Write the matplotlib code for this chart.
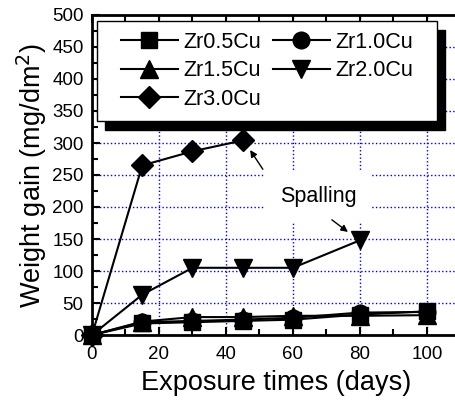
import numpy as np
import matplotlib
matplotlib.use('Agg')
import matplotlib.pyplot as plt
from matplotlib.ticker import MultipleLocator
from matplotlib.path import Path

plt.rcParams['font.family'] = ['Liberation Sans', 'DejaVu Sans']

days = [0, 15, 30, 45, 60, 80, 100]
zr05 = [0, 18, 20, 22, 24, 32, 37]
zr10 = [0, 20, 22, 24, 27, 35, 36]
zr15 = [0, 21, 28, 28, 30, 30, 31]
days20 = [0, 15, 30, 45, 60, 80]
zr20 = [0, 63, 105, 105, 105, 148]
days30 = [0, 15, 30, 45]
zr30 = [0, 265, 287, 304]

fig = plt.figure(figsize=(4.56, 4.03), dpi=100)
ax = fig.add_axes([92/456, 68/403, 368.5/456, 320/403])

ms = 12
kw = dict(lw=1.5, zorder=5, clip_on=False)
l05, = ax.plot(days, zr05, 'k-s', ms=ms, label='Zr0.5Cu', **kw)
l10, = ax.plot(days, zr10, 'k-o', ms=ms, label='Zr1.0Cu', **kw)
l15, = ax.plot(days, zr15, 'k-^', ms=ms+1, label='Zr1.5Cu', **kw)
l20, = ax.plot(days20, zr20, 'k-v', ms=ms+1, label='Zr2.0Cu', **kw)
l30, = ax.plot(days30, zr30, 'k-D', ms=ms-1, label='Zr3.0Cu', **kw)

ax.set_xlim(0, 110)
ax.set_ylim(0, 500)
ax.xaxis.set_major_locator(MultipleLocator(20))
ax.xaxis.set_minor_locator(MultipleLocator(10))
ax.yaxis.set_major_locator(MultipleLocator(50))
ax.yaxis.set_minor_locator(MultipleLocator(25))
ax.tick_params(which='both', direction='in', top=True, labelsize=13.5, width=1.5, pad=6)
ax.tick_params(axis='x', which='both', pad=8)
ax.tick_params(which='major', length=6)
ax.tick_params(which='minor', length=4)
ax.grid(True, which='major', color='blue', linestyle=':', linewidth=1)
for s in ax.spines.values():
    s.set_linewidth(2)

ax.set_xlabel('Exposure times (days)', fontsize=19.5, labelpad=5)
ax.set_ylabel('Weight gain (mg/dm$^2$)', fontsize=19.5, labelpad=2)


# legend frame with extra room left and right
def wide_box(x0, y0, width, height, mutation_size):
    ex = 0.6 * mutation_size
    return Path([(x0 - ex, y0), (x0 + width + ex, y0), (x0 + width + ex, y0 + height),
                 (x0 - ex, y0 + height), (x0 - ex, y0)], closed=True)


# row-major order as in the original legend
handles = [l05, l15, l30, l10, l20]
leg = ax.legend(handles=handles, ncol=2, loc='upper left', bbox_to_anchor=(0.049, 0.981),
                borderaxespad=0, fontsize=15.5, handlelength=2.65, handletextpad=0.25,
                columnspacing=0.55, labelspacing=0.35, borderpad=0.5,
                fancybox=False, framealpha=1, edgecolor='black',
                shadow={'color': 'black', 'alpha': 1, 'ox': 6, 'oy': -6.5})
leg.get_frame().set_boxstyle(wide_box)
leg.get_frame().set_linewidth(1)
leg.set_zorder(10)

ax.text(67.5, 217, 'Spalling', fontsize=15.5, ha='center', va='center', zorder=6,
        bbox=dict(facecolor='white', edgecolor='none', pad=11))
ax.annotate('', xy=(47.2, 289), xytext=(51, 259),
            arrowprops=dict(arrowstyle='-|>', color='black', lw=1, mutation_scale=10,
                            shrinkA=0, shrinkB=0), zorder=6)
ax.annotate('', xy=(76.4, 161), xytext=(71.6, 180),
            arrowprops=dict(arrowstyle='-|>', color='black', lw=1, mutation_scale=10,
                            shrinkA=0, shrinkB=0), zorder=6)

fig.savefig('out.png', dpi=100)
